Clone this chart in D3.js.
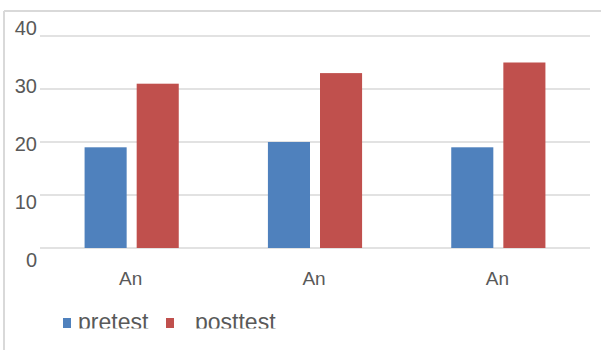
<!DOCTYPE html>
<html>
<head>
<meta charset="utf-8">
<script src="https://cdn.jsdelivr.net/npm/d3@7"></script>
<style>
  html, body { margin: 0; padding: 0; background: #fff; }
  svg { display: block; }
  text { font-family: "Liberation Sans", Arial, sans-serif; fill: #595959; }
</style>
</head>
<body>
<svg id="chart" width="601" height="350"></svg>
<script>
// Chart data
const categories = ["An", "An", "An"];
const seriesNames = ["pretest", "posttest"];
const pretest = [19, 20, 19];
const posttest = [31, 33, 35];
const yTicks = [0, 10, 20, 30, 40];
const colors = ["#4f81bd", "#c0504d"];

const svg = d3.select("#chart");

// Outer frame (top and left edges visible)
svg.append("line").attr("x1", 4).attr("x2", 601).attr("y1", 11).attr("y2", 11)
  .attr("stroke", "#d9d9d9").attr("stroke-width", 2);
svg.append("line").attr("x1", 4).attr("x2", 4).attr("y1", 11).attr("y2", 350)
  .attr("stroke", "#d9d9d9").attr("stroke-width", 2);

const plot = { left: 40, right: 590, top: 36, bottom: 248 };

const x = d3.scaleBand().domain(d3.range(categories.length))
  .range([plot.left, plot.right]).paddingInner(0).paddingOuter(0);
const y = d3.scaleLinear().domain([0, 40]).range([plot.bottom, plot.top]);
// Tick label placement
const yLabel = d3.scaleLinear().domain([0, 40]).range([260, 27.5]);

// Gridlines
svg.append("g").selectAll("line").data(yTicks).join("line")
  .attr("x1", plot.left).attr("x2", plot.right)
  .attr("y1", d => y(d)).attr("y2", d => y(d))
  .attr("stroke", "#d9d9d9").attr("stroke-width", 1.5);

// Y tick labels
svg.append("g").selectAll("text").data(yTicks).join("text")
  .attr("x", 37).attr("y", d => yLabel(d)).attr("dy", "0.36em")
  .attr("text-anchor", "end").attr("font-size", 20)
  .text(d => d);

// Bars
const inner = d3.scaleBand().domain(d3.range(seriesNames.length))
  .range([0, x.bandwidth()]).paddingInner(10 / 52).paddingOuter(44.5 / 52);
const values = [pretest, posttest];
const groups = svg.append("g").selectAll("g").data(categories).join("g")
  .attr("transform", (d, i) => `translate(${x(i)},0)`);
groups.selectAll("rect").data((d, i) => values.map((v, s) => ({ s, v: v[i] }))).join("rect")
  .attr("x", d => inner(d.s)).attr("width", inner.bandwidth())
  .attr("y", d => y(d.v)).attr("height", d => y(0) - y(d.v))
  .attr("fill", d => colors[d.s]);

// Category labels
svg.append("g").selectAll("text").data(categories).join("text")
  .attr("x", (d, i) => x(i) + x.bandwidth() / 2 - 1).attr("y", 285)
  .attr("text-anchor", "middle").attr("font-size", 19)
  .text(d => d);

// Legend (clipped along its lower edge)
svg.append("clipPath").attr("id", "legendClip")
  .append("rect").attr("x", 0).attr("y", 300).attr("width", 601).attr("height", 28.5);
const legend = svg.append("g").attr("clip-path", "url(#legendClip)");
const legendX = [63, 166];
const legendTextX = [78, 195];
legend.selectAll("rect").data(seriesNames).join("rect")
  .attr("x", (d, i) => legendX[i]).attr("y", 318)
  .attr("width", 8).attr("height", 10)
  .attr("fill", (d, i) => colors[i]);
legend.selectAll("text").data(seriesNames).join("text")
  .attr("x", (d, i) => legendTextX[i]).attr("y", 330)
  .attr("font-size", 23)
  .text(d => d);
</script>
</body>
</html>
